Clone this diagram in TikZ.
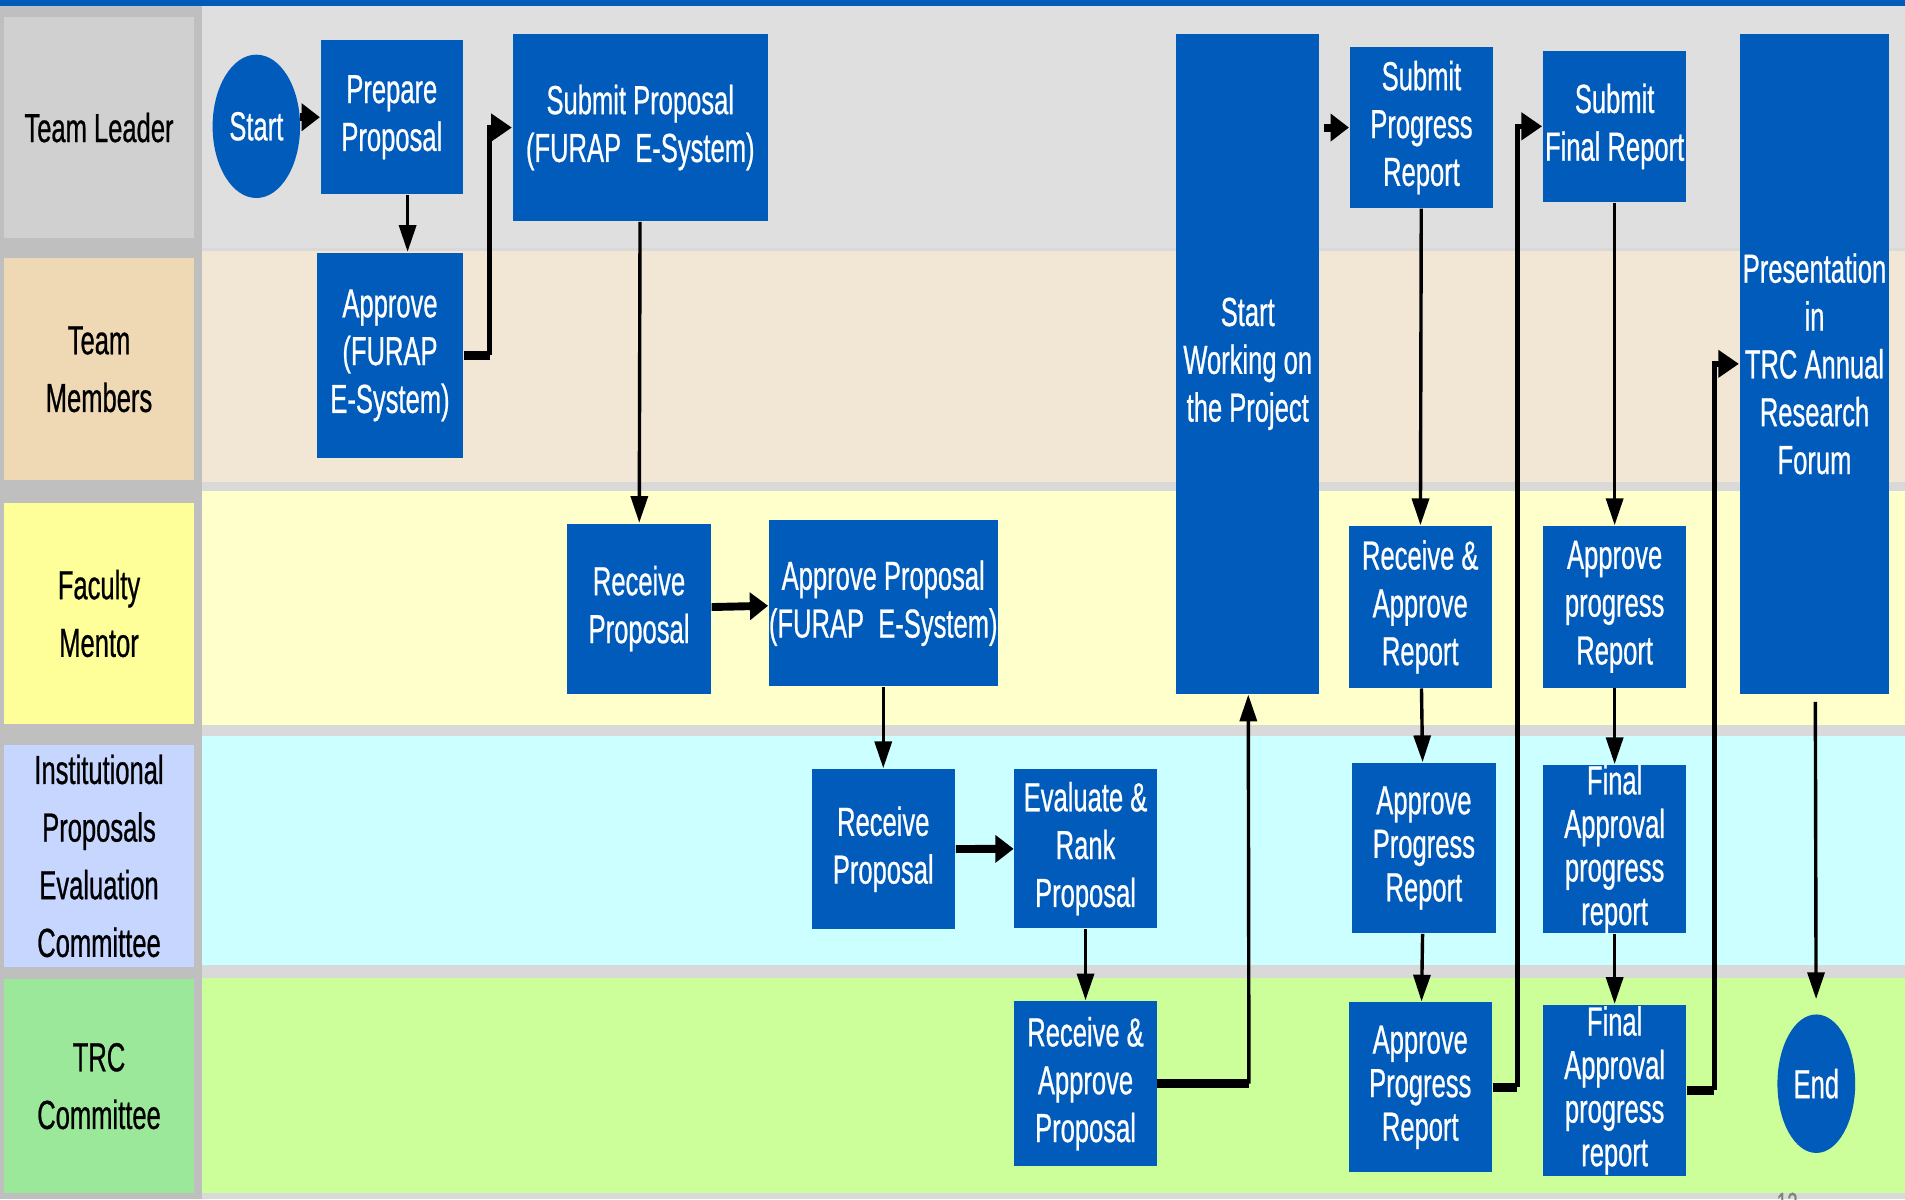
\documentclass[tikz,border=0pt]{standalone}
\usepackage{fontspec}
\setmainfont[FakeStretch=0.63,FakeBold=0.6]{Liberation Sans}
\usetikzlibrary{
  arrows.meta,
  shapes.geometric,
  chains,
  scopes
}
\definecolor{boxblue}{RGB}{0,91,187}
\definecolor{colgray}{RGB}{191,191,191}
\definecolor{sepgray}{RGB}{217,217,217}
\definecolor{tllabel}{RGB}{208,208,208}
\definecolor{tlband}{RGB}{223,223,223}
\definecolor{tmlabel}{RGB}{238,217,180}
\definecolor{tmband}{RGB}{242,231,212}
\definecolor{fmlabel}{RGB}{255,255,153}
\definecolor{fmband}{RGB}{255,255,204}
\definecolor{iplabel}{RGB}{198,214,255}
\definecolor{ipband}{RGB}{204,255,255}
\definecolor{trclabel}{RGB}{156,232,155}
\definecolor{trcband}{RGB}{204,255,153}

\begin{document}
\begin{tikzpicture}[x=0.1mm,y=-0.1mm,
      task/.style={
         rectangle,
         fill=boxblue,
         text=white,
         inner sep=0pt,
         align=center,
         font=\fontsize{9.5}{11.2}\selectfont
      },
      terminal/.style={
         ellipse,
         fill=boxblue,
         text=white,
         inner sep=0pt,
         font=\fontsize{9.5}{11.2}\selectfont
      },
      tight/.style={font=\fontsize{9.5}{10.2}\selectfont},
      lanelabel/.style={
         rectangle,
         inner sep=0pt,
         align=center,
         font=\fontsize{9.5}{13.5}\selectfont
      },
      boxsize/.style 2 args={minimum width=#1*0.1mm,minimum height=#2*0.1mm},
      point/.style={coordinate},
      tip/.style={-{Triangle[length=2.2mm,width=1.4mm]},line width=0.28mm},
      fat/.style={line width=0.7mm},
      fat tip/.style={-{Triangle[length=1.5mm,width=2.2mm]},line width=0.65mm},
      bend tip/.style={-{Triangle[length=1.7mm,width=2.2mm]},line width=0.45mm},
      vh path/.style={to path={|- (\tikztotarget)}}
    ]
    \useasboundingbox (0,0) rectangle (1568,987);
    % lanes
    \fill[colgray] (0,0) rectangle (166,987);
    \fill[sepgray] (166,0) rectangle (1568,987);
    \fill[boxblue] (0,0) rectangle (1568,5);
    \fill[tlband] (166,5) rectangle (1568,204);
    \fill[tmband] (166,207) rectangle (1568,397);
    \fill[fmband] (166,404) rectangle (1568,597);
    \fill[ipband] (166,606) rectangle (1568,794);
    \fill[trcband] (166,805) rectangle (1568,982);
    \node (tl) [lanelabel, fill=tllabel, boxsize={157}{182}] at (81.5,105) {Team Leader};
    \node (tm) [lanelabel, fill=tmlabel, boxsize={157}{183}] at (81.5,304) {Team\\Members};
    \node (fm) [lanelabel, fill=fmlabel, boxsize={157}{182}] at (81.5,505) {Faculty\\Mentor};
    \node (ip) [lanelabel, fill=iplabel, boxsize={157}{183}] at (81.5,704.5) {Institutional\\Proposals\\Evaluation\\Committee};
    \node (trc) [lanelabel, fill=trclabel, boxsize={157}{176}] at (81.5,894) {TRC\\Committee};
    \node (page) [anchor=north, text=gray, font=\fontsize{7}{8}\selectfont, inner sep=0pt] at (1471,981) {12};

    % steps
    \node (start) [terminal, boxsize={72}{118}] at (211,104) {Start};
    \node (prepare) [task, boxsize={117}{127}] at (322.5,96.5) {Prepare\\Proposal};
    \node (approvetm) [task, boxsize={120}{169}] at (321,292.5) {Approve\\(FURAP\\E-System)};
    \node (submitprop) [task, boxsize={210}{154}] at (527,105) {Submit Proposal\\(FURAP~ E-System)};
    \node (recvfm) [task, boxsize={118}{140}] at (526,501) {Receive\\Proposal};
    \node (approvefm) [task, boxsize={186}{137}] at (727,496.5) {Approve Proposal\\(FURAP~ E-System)};
    \node (recvip) [task, boxsize={118}{132}] at (727,699) {Receive\\Proposal};
    \node (evaluate) [task, boxsize={117}{131}] at (893.5,698.5) {Evaluate \&\\Rank\\Proposal};
    \node (approvetrc) [task, boxsize={117}{136}] at (893.5,892) {Receive \&\\Approve\\Proposal};
    \node (working) [task, boxsize={118}{543}] at (1027,299.5) {Start\\Working on\\the Project};
    \node (submitprog) [task, boxsize={118}{132}] at (1170,105) {Submit\\Progress\\Report};
    \node (recvrep) [task, boxsize={118}{133}] at (1169,499.5) {Receive \&\\Approve\\Report};
    \node (progip) [task, tight, boxsize={118}{140}] at (1172,698) {Approve\\Progress\\Report};
    \node (progtrc) [task, tight, boxsize={118}{140}] at (1169,895) {Approve\\Progress\\Report};
    \node (submitfinal) [task, boxsize={118}{124}] at (1329,104) {Submit\\Final Report};
    \node (progfm) [task, boxsize={118}{133}] at (1329,499.5) {Approve\\progress\\Report};
    \node (finalip) [task, tight, boxsize={118}{138}] at (1329,699) {Final\\Approval\\progress\\report};
    \node (finaltrc) [task, tight, boxsize={118}{141}] at (1329,897.5) {Final\\Approval\\progress\\report};
    \node (forum) [task, boxsize={123}{543}] at (1493.5,299.5) {Presentation\\in\\TRC Annual\\Research\\Forum};
    \node (stop) [terminal, boxsize={64}{114}] at (1495,892) {End};

    % bend points
    \node (p0) [point] at (247,96.5) {};
    \node (p1) [point] at (403,292.5) {};
    \node (p2) [point] at (1028,892) {};
    \node (p3) [point] at (1090,105) {};
    \node (p4) [point] at (1249,895) {};
    \node (p5) [point] at (1411,897.5) {};

    \draw[tip] ([xshift=1.3mm]prepare.south) -- ([xshift=1.3mm]prepare.south |- approvetm.north);
  { [start chain]
       \chainin (p0);
       \chainin (prepare)    [join=by fat tip];
  }
  { [start chain]
       \chainin (approvetm);
       \chainin (p1)    [join=by fat];
       \chainin (submitprop)    [join=by {vh path,bend tip}];
  }
  { [start chain]
       \chainin (submitprop);
       \chainin (recvfm)    [join=by tip];
       \chainin (approvefm)    [join=by fat tip];
       \chainin (recvip)    [join=by tip];
       \chainin (evaluate)    [join=by fat tip];
       \chainin (approvetrc)    [join=by tip];
       \chainin (p2)    [join=by fat];
       \chainin (working)    [join=by tip];
  }
  { [start chain]
       \chainin (p3);
       \chainin (submitprog)    [join=by fat tip];
       \chainin (recvrep)    [join=by tip];
       \chainin (progip)    [join=by tip];
       \chainin (progtrc)    [join=by tip];
       \chainin (p4)    [join=by fat];
       \chainin (submitfinal)    [join=by {vh path,bend tip}];
       \chainin (progfm)    [join=by tip];
       \chainin (finalip)    [join=by tip];
       \chainin (finaltrc)    [join=by tip];
       \chainin (p5)    [join=by fat];
       \chainin (forum)    [join=by {vh path,bend tip}];
       \chainin (stop)    [join=by {tip,shorten <=0.6mm,shorten >=1.2mm}];
  }
\end{tikzpicture}
\end{document}
